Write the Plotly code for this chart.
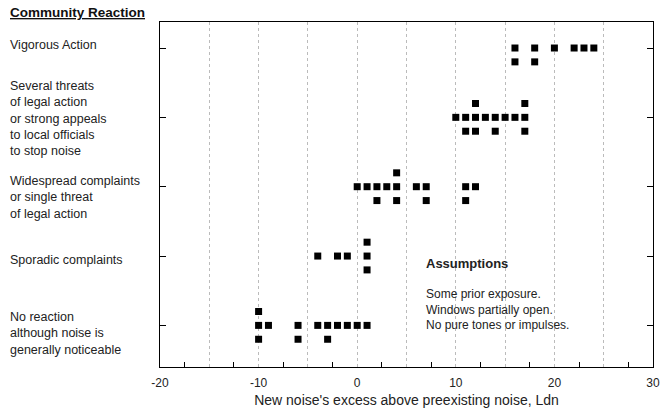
import plotly.graph_objects as go

# Community reaction categories (bottom to top)
categories = [
    "No reaction<br>although noise is<br>generally noticeable",
    "Sporadic complaints",
    "Widespread complaints<br>or single threat<br>of legal action",
    "Several threats<br>of legal action<br>or strong appeals<br>to local officials<br>to stop noise",
    "Vigorous Action",
]
# Observed excess (Ldn) of each case, per category
no_reaction = [-10, -10, -10, -9, -6, -6, -4, -3, -3, -2, -1, 0, 1]
sporadic = [-4, -2, -1, 1, 1, 1]
widespread = [0, 1, 2, 2, 3, 4, 4, 4, 6, 7, 7, 11, 11, 12]
several_threats = [10, 11, 11, 12, 12, 12, 13, 14, 14, 15, 16, 17, 17, 17]
vigorous = [16, 16, 18, 18, 20, 22, 23, 24]
series = [no_reaction, sporadic, widespread, several_threats, vigorous]

x_tick_vals = [-20, -15, -10, -5, 0, 5, 10, 15, 20, 25, 30]
x_tick_text = ["-20", "", "-10", "", "0", "", "10", "", "20", "", "30"]

assumptions = ["Some prior exposure.", "Windows partially open.", "No pure tones or impulses."]

# stack repeated values: 1st at level, 2nd below, 3rd above
STEP = 0.2
order = [0, -1, 1, -2, 2]
xs, ys = [], []
for level, vals in enumerate(series):
    seen = {}
    for v in vals:
        k = seen.get(v, 0)
        seen[v] = k + 1
        xs.append(v)
        ys.append(level + order[k] * STEP)

FONT = "Liberation Sans, Arial, Helvetica, sans-serif"
fig = go.Figure()
fig.add_trace(go.Scatter(
    x=xs, y=ys, mode="markers",
    marker=dict(symbol="square", size=7, color="black", line=dict(width=0)),
    showlegend=False, hoverinfo="x",
))

fig.update_layout(
    width=660, height=410,
    margin=dict(l=160, r=7, t=22, b=43),
    paper_bgcolor="white", plot_bgcolor="white",
    font=dict(family=FONT, size=12, color="#222"),
    xaxis=dict(
        range=[-20, 30], tickvals=x_tick_vals, ticktext=x_tick_text, automargin=False,
        showgrid=True, gridcolor="#bbbbbb", griddash="dot", gridwidth=1,
        ticks="", showline=True, linecolor="black", linewidth=1.2, mirror=True,
        zeroline=False, tickfont=dict(size=12, color="#222"), ticklabelstandoff=4,
        minor=dict(tick0=-17.5, dtick=5, ticks="inside", ticklen=5, tickcolor="black", showgrid=False),
        title=dict(text="New noise's excess above preexisting noise, Ldn", font=dict(size=14, color="#222"), standoff=6),
    ),
    yaxis=dict(
        range=[-0.6, 4.375], tickvals=[0, 1, 2, 3, 4], showticklabels=False, automargin=False,
        ticks="inside", ticklen=6, tickcolor="black",
        showgrid=False, zeroline=False, showline=True, linecolor="black", linewidth=1.2, mirror="ticks",
    ),
)

# category labels on the left
label_y = [-0.12, 0.95, 1.84, 2.99, 4.04]
for cat, yy in zip(categories, label_y):
    fig.add_annotation(text=cat, xref="paper", yref="y", x=-0.308, y=yy,
                       xanchor="left", yanchor="middle", align="left", showarrow=False,
                       font=dict(size=12.5, color="#222"))

fig.add_annotation(text="<u><b>Community Reaction</b></u>", xref="paper", yref="paper",
                   x=-0.308, y=1.0, xanchor="left", yanchor="bottom", showarrow=False,
                   font=dict(size=13.5, color="#111"))

fig.add_annotation(text="<b>Assumptions</b>", xref="x", yref="y", x=6.8, y=0.895,
                   xanchor="left", yanchor="middle", showarrow=False, font=dict(size=13, color="#222"))
fig.add_annotation(text="<br>".join(assumptions), xref="x", yref="y", x=6.8, y=0.23,
                   xanchor="left", yanchor="middle", align="left", showarrow=False,
                   font=dict(size=12, color="#222"))

fig.write_html("out.html")
